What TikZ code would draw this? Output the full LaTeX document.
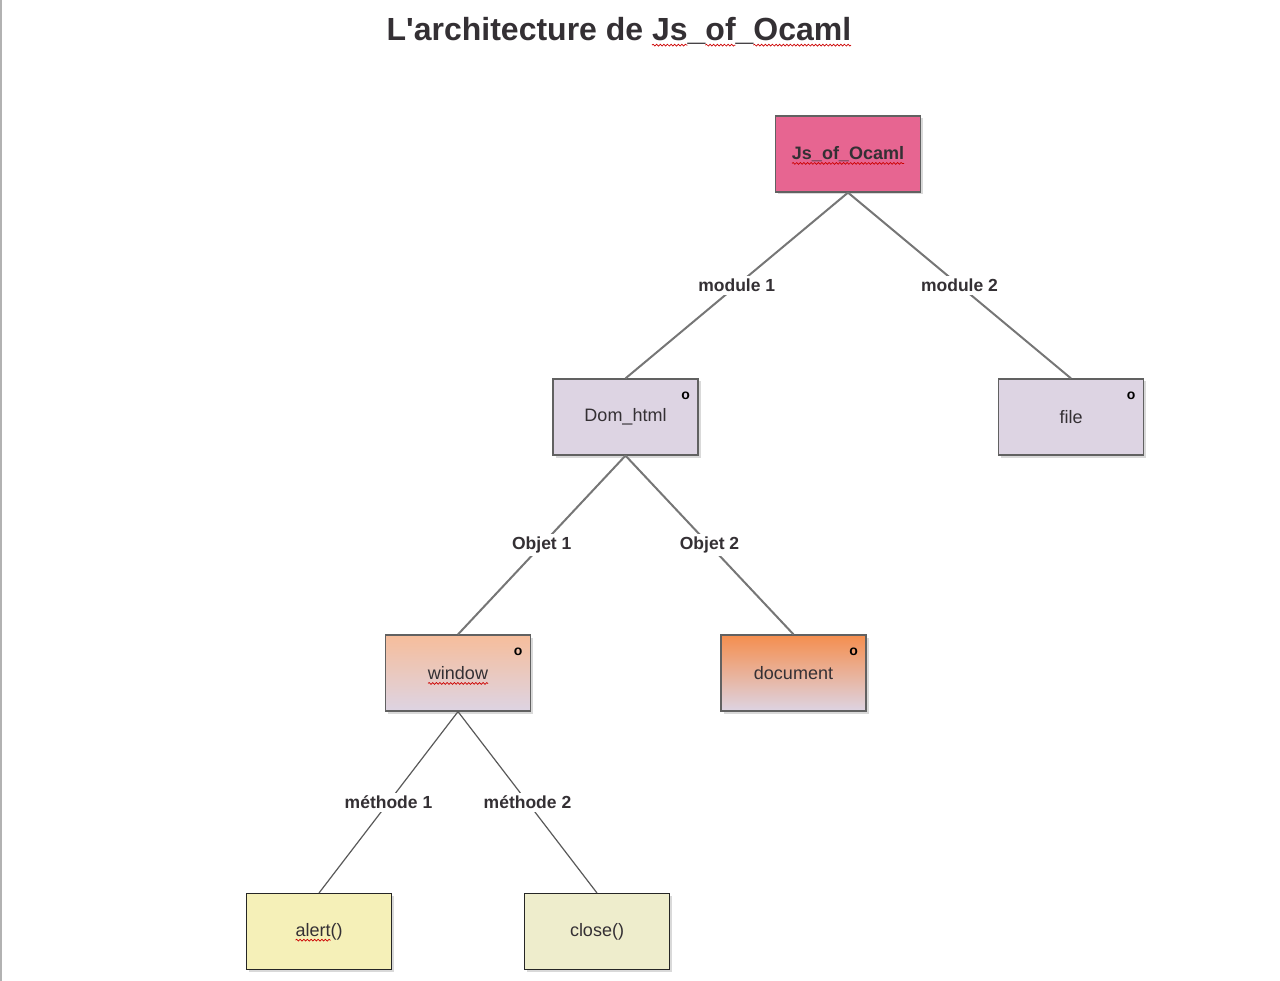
\documentclass[tikz,border=0pt]{standalone}
\usepackage{fontspec}
\setmainfont{Liberation Sans}
\usepackage{tikz}
\usetikzlibrary{positioning,shadows,decorations.pathmorphing}

\definecolor{jspink}{RGB}{231,101,145}
\definecolor{lav}{RGB}{221,212,227}
\definecolor{peach}{RGB}{246,189,155}
\definecolor{orng}{RGB}{245,142,78}
\definecolor{yellowA}{RGB}{245,240,184}
\definecolor{yellowB}{RGB}{238,237,204}
\definecolor{txt}{RGB}{52,48,52}
\definecolor{wire}{RGB}{118,118,118}

\tikzset{
  box/.style={draw=black!62, line width=1.2pt, minimum width=145pt, minimum height=76pt,
    inner sep=0pt, text=txt, font=\fontsize{18}{22}\selectfont,
    drop shadow={shadow xshift=2.5pt, shadow yshift=-2.5pt, opacity=.3}},
  leaf/.style={box, draw=black!85, line width=1pt},
  edge/.style={draw=wire, line width=2pt},
  thinedge/.style={draw=black!65, line width=1.2pt},
  elabel/.style={fill=white, inner sep=3pt, text=txt, font=\fontsize{17.5}{21}\selectfont\bfseries},
  corner/.style={inner sep=0pt, font=\fontsize{14}{16}\selectfont\bfseries},
  % red wavy underline, as the spell checker shows it
  spell/.style={draw=red!80!black, line width=.7pt, decorate,
    decoration={snake, amplitude=.9pt, segment length=3.6pt}}
}

\begin{document}
\begin{tikzpicture}[x=1pt,y=-1pt]
    \useasboundingbox (0,0) rectangle (1280,981);
    \draw[black!30, line width=1.5pt] (1,0) -- (1,981);

    \node(TITLE) at (619,31) [inner sep=0pt, text=txt, font=\fontsize{32}{38}\selectfont\bfseries]
      {L\textquotesingle architecture de Js\_of\_Ocaml};

    \node(JS) [box, fill=jspink, font=\fontsize{18}{22}\selectfont\bfseries] at (848,154) {Js\_of\_Ocaml};
    \node(DOM) [box, fill=lav, on grid, below left =263pt and 222.5pt of JS]{Dom\_html};
    \node(FILE) [box, fill=lav, on grid, below right =263pt and 223pt of JS]{file};

    \node(WIN) [box, top color=peach, bottom color=lav, on grid, below left =256pt and 167.5pt of DOM]{window};
    \node(DOC) [box, top color=orng, bottom color=lav, on grid, below right =256pt and 168pt of DOM]{document};

    \node(ALERT) [leaf, fill=yellowA, on grid, below left =258.5pt and 139pt of WIN]{alert()};
    \node(CLOSE) [leaf, fill=yellowB, on grid, below right =258.5pt and 139pt of WIN]{close()};

    \foreach \n in {DOM,FILE,WIN,DOC}
      \node(\n-o) [corner] at ([xshift=-13pt,yshift=-17pt]\n.north east) {o};

    \draw[edge] (JS.south) -- node[elabel]{module 1} (DOM.north);
    \draw[edge] (JS.south) -- node[elabel]{module 2} (FILE.north);
    \draw[edge] (DOM.south) -- node[elabel]{Objet 1} (WIN.north);
    \draw[edge] (DOM.south) -- node[elabel]{Objet 2} (DOC.north);
    \draw[thinedge] (WIN.south) -- node[elabel]{méthode 1} (ALERT.north);
    \draw[thinedge] (WIN.south) -- node[elabel]{méthode 2} (CLOSE.north);

    % spell checker marks
    \draw[spell] ([xshift=265.5pt,yshift=-4.5pt]TITLE.base west) -- ++(35.6,0);
    \draw[spell] ([xshift=318.9pt,yshift=-4.5pt]TITLE.base west) -- ++(30.2,0);
    \draw[spell] ([xshift=366.9pt,yshift=-4.5pt]TITLE.base west) -- ++(97.8,0);
    \draw[spell] ([xshift=-56pt,yshift=-4pt]JS.base) -- ++(112,0);
    \draw[spell] ([xshift=-30pt,yshift=-4pt]WIN.base) -- ++(60,0);
    \draw[spell] ([xshift=-23.5pt,yshift=-4pt]ALERT.base) -- ++(35,0);
  \end{tikzpicture}
\end{document}
